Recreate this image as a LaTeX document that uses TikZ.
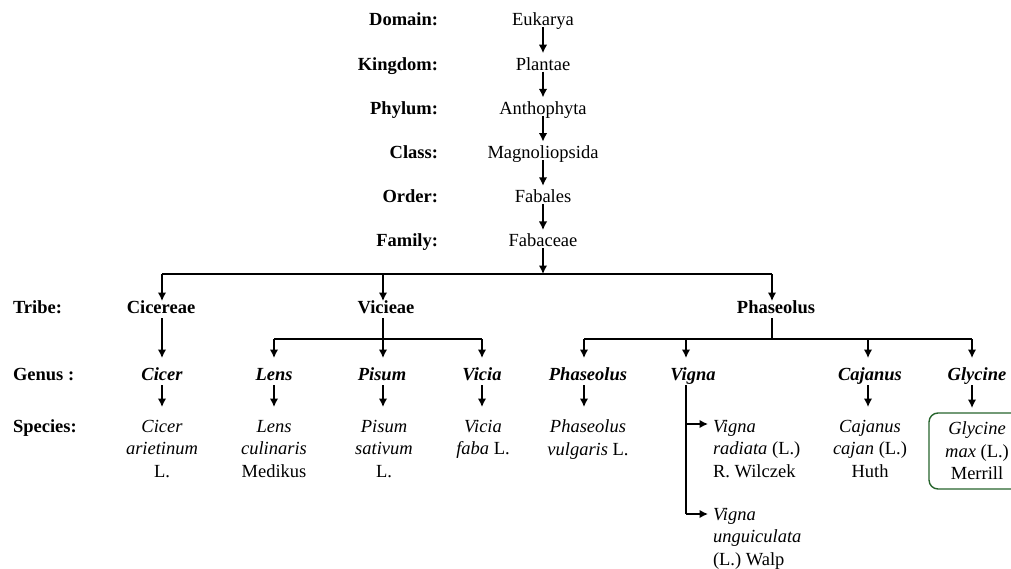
\documentclass[tikz,border=0pt]{standalone}
\usepackage{fontspec}
\setmainfont{Liberation Serif}
\usetikzlibrary{arrows.meta}
\definecolor{boxgreen}{RGB}{38,100,44}
\newcommand{\fsz}{\fontsize{18.5}{22.5}\selectfont}
\begin{document}
\begin{tikzpicture}[x=1pt,y=-1pt,
  every node/.style={inner sep=0pt,outer sep=0pt,font=\fsz},
  one/.style={anchor=base,text height=12pt,text depth=1.5pt},
  rank/.style={anchor=base east,font=\fsz\bfseries},
  rankl/.style={anchor=base west,font=\fsz\bfseries},
  tribe/.style={one,font=\fsz\bfseries},
  genus/.style={one,font=\fsz\bfseries\itshape},
  species/.style={anchor=north,align=center},
  line/.style={line width=1.5pt},
  arr/.style={line width=1.5pt,-{Latex[length=8.5pt,width=8.5pt]}},
]
\useasboundingbox (0,0) rectangle (1011,569);
\clip (0,0) rectangle (1011,569);
% upper ranks
\node[rank] (ldom) at (438,26) {Domain:};
\node[rank] (lkin) at (438,70.2) {Kingdom:};
\node[rank] (lphy) at (438,114.4) {Phylum:};
\node[rank] (lcla) at (438,158.6) {Class:};
\node[rank] (lord) at (438,202.8) {Order:};
\node[rank] (lfam) at (438,247) {Family:};
\node[one] (euk) at (543,26) {Eukarya};
\node[one] (pla) at (543,70.2) {Plantae};
\node[one] (ant) at (543,114.4) {Anthophyta};
\node[one] (mag) at (543,158.6) {Magnoliopsida};
\node[one] (fbl) at (543,202.8) {Fabales};
\node[one] (fab) at (543,247) {Fabaceae};
\foreach \a/\b in {euk/pla,pla/ant,ant/mag,mag/fbl,fbl/fab}
  \draw[arr,shorten >=5pt] (\a) -- (\b);
% lower rank labels
\node[rankl] (ltri) at (13,313) {Tribe:};
\node[rankl] (lgen) at (13,380) {Genus :};
\node[rankl] (lspe) at (13,432) {Species:};
% family bar
\coordinate (fb) at (543,274);
\coordinate (fb1) at (162,274);
\coordinate (fb2) at (383,274);
\coordinate (fb3) at (772,274);
\draw[arr] (fab) -- (fb);
\draw[line] (fb1) -- (fb3);
% tribes
\node[tribe] (cic) at (161,313) {Cicereae};
\node[tribe] (vic) at (386,313) {Vicieae};
\node[tribe] (pht) at (776,313) {Phaseolus};
\draw[arr] (fb1) -- (fb1 |- cic.north);
\draw[arr] (fb2) -- (fb2 |- vic.north);
\draw[arr] (fb3) -- (fb3 |- pht.north);
% genera
\node[genus] (gcic) at (162,380) {Cicer};
\node[genus] (glen) at (274,380) {Lens};
\node[genus] (gpis) at (382,380) {Pisum};
\node[genus] (gvic) at (482,380) {Vicia};
\node[genus] (gpha) at (588,380) {Phaseolus};
\node[genus] (gvig) at (693,380) {Vigna};
\node[genus] (gcaj) at (870,380) {Cajanus};
\node[genus] (ggly) at (977,380) {Glycine};
% Cicereae -> Cicer
\draw[arr,shorten <=3.5pt,shorten >=10pt] (cic.south -| fb1) -- (fb1 |- gcic.north);
% Vicieae branch
\coordinate (vb) at (383,339);
\coordinate (vb1) at (274,339);
\coordinate (vb3) at (482,339);
\draw[arr,shorten <=3.5pt,shorten >=10pt] (vic.south -| vb) -- (vb |- gpis.north);
\draw[line] (vb1) -- (vb3);
\draw[arr,shorten >=10pt] (vb1) -- (vb1 |- glen.north);
\draw[arr,shorten >=10pt] (vb3) -- (vb3 |- gvic.north);
% Phaseolus branch
\coordinate (pb) at (772,339);
\coordinate (pb1) at (584,339);
\coordinate (pb2) at (686,339);
\coordinate (pb3) at (868,339);
\coordinate (pb4) at (972,339);
\draw[line,shorten <=3.5pt] (pht.south -| pb) -- (pb);
\draw[line] (pb1) -- (pb4);
\draw[arr,shorten >=10pt] (pb1) -- (pb1 |- gpha.north);
\draw[arr,shorten >=10pt] (pb2) -- (pb2 |- gvig.north);
\draw[arr,shorten >=10pt] (pb3) -- (pb3 |- gcaj.north);
\draw[arr,shorten >=10pt] (pb4) -- (pb4 |- ggly.north);
% species
\node[species] (scic) at (162,420) {\itshape Cicer\\ \itshape arietinum\\ L.};
\node[species] (slen) at (274,420) {\itshape Lens\\ \itshape culinaris\\ Medikus};
\node[species] (spis) at (384,420) {\itshape Pisum\\ \itshape sativum\\ L.};
\node[species] (svic) at (483,420) {\itshape Vicia\\ \textit{faba} L.};
\node[species] (spha) at (588,420) {\itshape Phaseolus\\ \textit{vulgaris} L.};
\node[species,anchor=north west,align=left] (srad) at (713,420) {\itshape Vigna\\ \textit{radiata} (L.)\\ R. Wilczek};
\node[species,anchor=north west,align=left] (sung) at (713,508) {\itshape Vigna\\ \itshape unguiculata\\ (L.) Walp};
\node[species] (scaj) at (870,420) {\itshape Cajanus\\ \textit{cajan} (L.)\\ Huth};
\node[species,anchor=center,draw=boxgreen,line width=1.4pt,rounded corners=9pt,
  minimum width=96pt,minimum height=76pt] (sgly) at (977,451) {\itshape Glycine\\ \textit{max} (L.)\\ Merrill};
% genus -> species
\draw[arr,shorten <=3.5pt,shorten >=13pt] (gcic.south -| fb1) -- (fb1 |- scic.north);
\draw[arr,shorten <=3.5pt,shorten >=13pt] (glen.south -| vb1) -- (vb1 |- slen.north);
\draw[arr,shorten <=3.5pt,shorten >=13pt] (gpis.south -| vb) -- (vb |- spis.north);
\draw[arr,shorten <=3.5pt,shorten >=13pt] (gvic.south -| vb3) -- (vb3 |- svic.north);
\draw[arr,shorten <=3.5pt,shorten >=13pt] (gpha.south -| pb1) -- (pb1 |- spha.north);
\draw[arr,shorten <=3.5pt,shorten >=13pt] (gcaj.south -| pb3) -- (pb3 |- scaj.north);
\draw[arr,shorten <=3.5pt,shorten >=5pt] (ggly.south -| pb4) -- (pb4 |- sgly.north);
% Vigna branches
\coordinate (vg1) at (686,424);
\coordinate (vg2) at (686,514);
\draw[line,shorten <=3.5pt] (gvig.south -| pb2) -- (vg2);
\draw[arr,shorten >=5pt] (vg1) -- (vg1 -| srad.west);
\draw[arr,shorten >=5pt] (vg2) -- (vg2 -| sung.west);
\end{tikzpicture}
\end{document}
